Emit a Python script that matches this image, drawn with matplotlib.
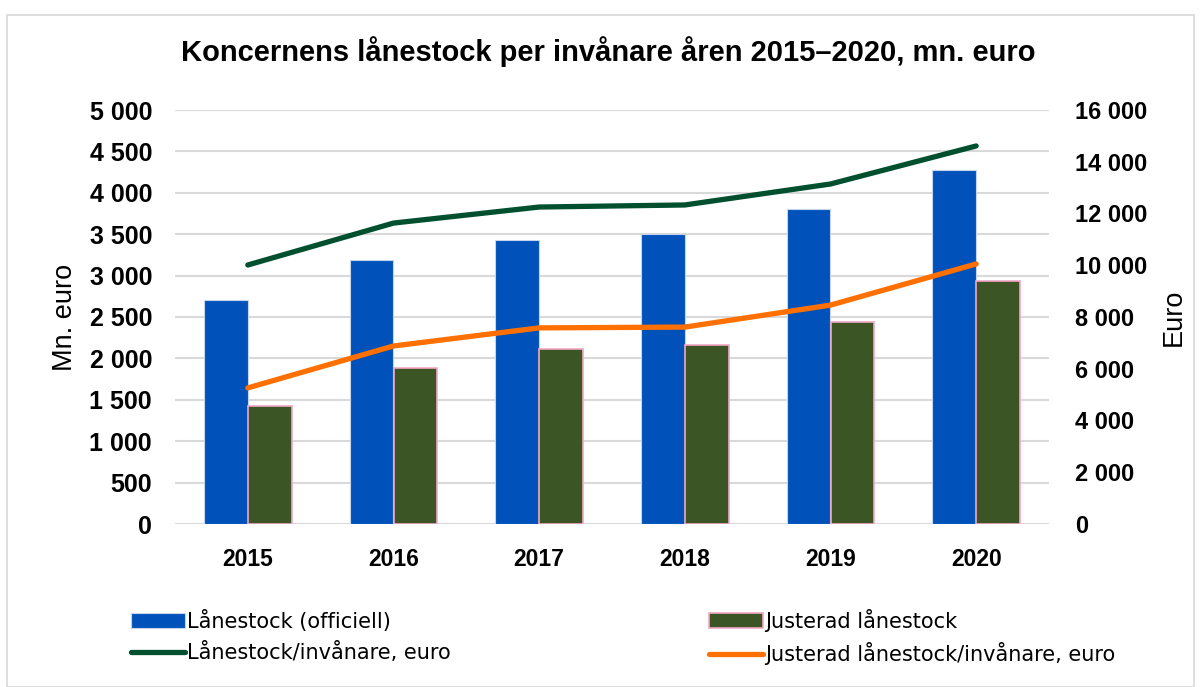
import matplotlib.pyplot as plt
from matplotlib.patches import Rectangle
import numpy as np

years = ["2015", "2016", "2017", "2018", "2019", "2020"]
lanestock = [2700, 3190, 3430, 3500, 3805, 4275]
justerad = [1425, 1885, 2115, 2160, 2440, 2935]
per_inv = [10010, 11630, 12250, 12330, 13140, 14610]
justerad_per_inv = [5260, 6880, 7580, 7610, 8460, 10050]

blue = "#0052BA"
barGreen = "#3B5624"
pink = "#F2A7C7"
lineGreen = "#004F2F"
orange = "#FF7000"
grid = "#D9D9D9"

fig = plt.figure(figsize=(12.01, 6.87), dpi=100)
fig.add_artist(Rectangle((7/1201, 1-687/687), 1-14/1201, 1-14/687-0.001,
                         transform=fig.transFigure, fill=False,
                         edgecolor="#D9D9D9", linewidth=1.2))

ax = fig.add_axes([175/1201, 1-524/687, (1049-175)/1201, (524-110)/687])
ax2 = ax.twinx()

x = np.arange(len(years))
w = 0.30
ax.bar(x - w/2, lanestock, w, color=blue, edgecolor="#C5D3EC", linewidth=0.8, zorder=2,
       label="Lånestock (officiell)")
ax.bar(x + w/2, justerad, w, color=barGreen, edgecolor=pink, linewidth=1.2, zorder=2,
       label="Justerad lånestock")

ax2.plot(x, per_inv, color=lineGreen, linewidth=3.8, solid_capstyle="round",
         label="Lånestock/invånare, euro")
ax2.plot(x, justerad_per_inv, color=orange, linewidth=3.8, solid_capstyle="round",
         label="Justerad lånestock/invånare, euro")

ax.set_xlim(-0.5, 5.5)
ax.set_ylim(0, 5000)
ax2.set_ylim(0, 16000)
ax.set_yticks(range(0, 5001, 500))
ax2.set_yticks(range(0, 16001, 2000))

def fmt(v):
    return f"{v:,}".replace(",", " ")

ax.set_yticklabels([fmt(v) for v in range(0, 5001, 500)], fontsize=18,
                   fontweight="bold", family="Liberation Sans")
ax2.set_yticklabels([fmt(v) for v in range(0, 16001, 2000)], fontsize=17,
                    fontweight="bold", family="Liberation Sans")
ax.set_xticks(x)
ax.set_xticklabels(years, fontsize=16.5, fontweight="bold", family="Liberation Sans")

ax.yaxis.grid(True, color=grid, linewidth=1.5, zorder=0)
ax.set_axisbelow(True)
for a in (ax, ax2):
    for s in a.spines.values():
        s.set_visible(False)
    a.tick_params(length=0)
ax.tick_params(axis="y", pad=16.5)
ax2.tick_params(axis="y", pad=18.5)
ax.tick_params(axis="x", pad=17)

ax.set_ylabel("Mn. euro", fontsize=19.5, family="Liberation Sans", labelpad=8.5)
ax2.set_ylabel("Euro", fontsize=19.5, family="Liberation Sans", labelpad=10)

fig.text(608/1201, 1-52/687, "Koncernens lånestock per invånare åren 2015–2020, mn. euro",
         ha="center", va="center", fontsize=21, fontweight="bold", family="Liberation Sans")

h1, l1 = ax.get_legend_handles_labels()
h2, l2 = ax2.get_legend_handles_labels()
handles = [h1[0], h2[0], h1[1], h2[1]]
labels = [l1[0], l2[0], l1[1], l2[1]]
fig.legend(handles, labels, ncol=2, loc="upper left", bbox_to_anchor=(112/1201, 1-590/687),
           frameon=False, prop={"family": "DejaVu Sans", "size": 15},
           handlelength=2.6, handletextpad=0.1, columnspacing=12.4, labelspacing=0.5)

fig.savefig("out.png", dpi=100)
